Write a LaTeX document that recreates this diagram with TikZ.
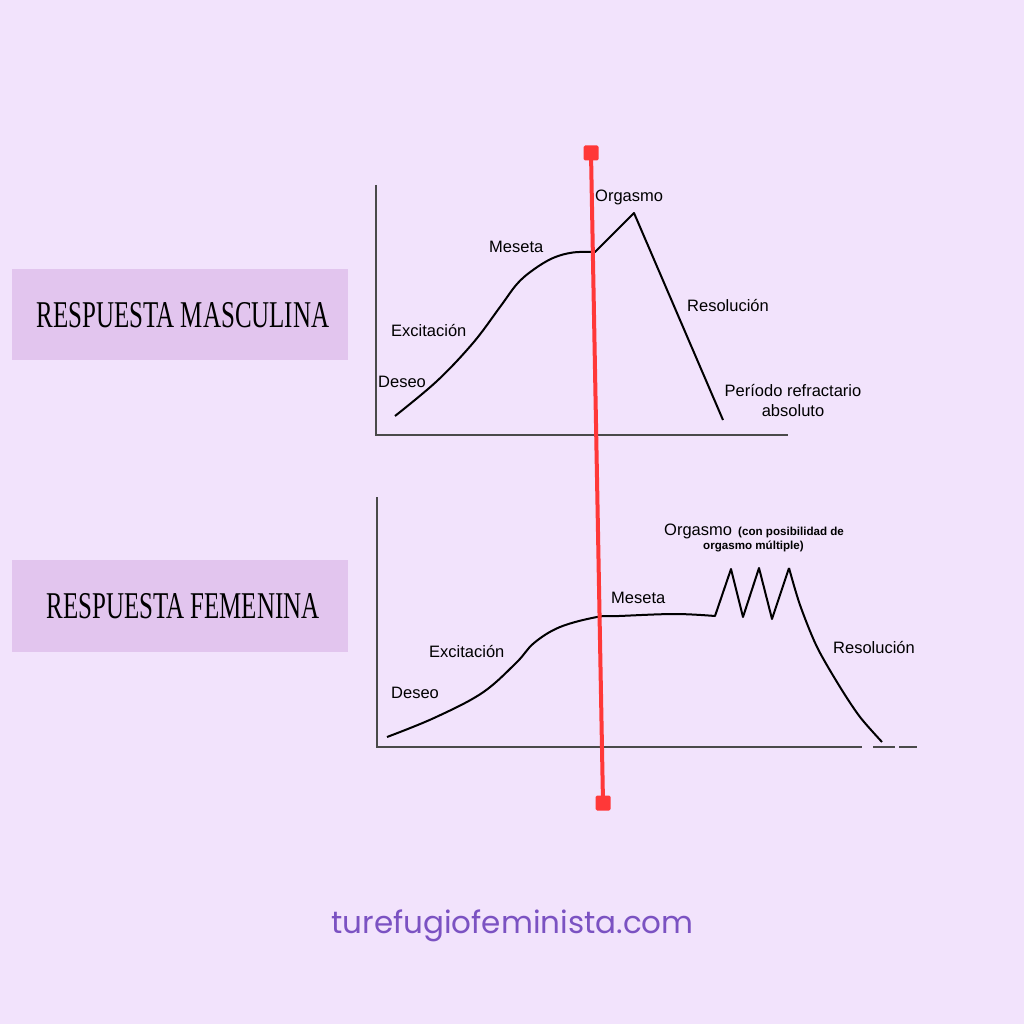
\documentclass[tikz,border=0pt]{standalone}
\usepackage{fontspec}
\setmainfont{Liberation Sans}
\newfontfamily\titlefont[FakeStretch=0.66]{Liberation Serif}
\newfontfamily\footfont{Poppins}
\definecolor{bgc}{HTML}{F2E3FC}
\definecolor{boxc}{HTML}{E2C5EE}
\definecolor{footc}{HTML}{7B52C2}
\definecolor{redc}{HTML}{FF3838}
\definecolor{axisc}{HTML}{4A4A4A}
\tikzset{
  lbl/.style={anchor=base west, inner sep=0pt, font=\fontsize{16.5}{20}\selectfont},
  small/.style={anchor=base west, inner sep=0pt, font=\fontsize{11.6}{14}\selectfont\bfseries},
  titlebox/.style={fill=boxc, draw=none},
  titletext/.style={anchor=base, inner sep=0pt, font=\titlefont\fontsize{37.8}{40}\selectfont},
  axis/.style={draw=axisc, line width=1.3pt},
  curve/.style={draw=black, line width=2pt, line join=round},
  redsq/.style={fill=redc, minimum size=15pt, inner sep=0pt, rounded corners=1.5pt, draw=none},
  redline/.style={draw=redc, line width=4pt}
}
\begin{document}
\begin{tikzpicture}[x=1pt,y=-1pt]
\fill[bgc] (0,0) rectangle (1024,1024);
\useasboundingbox (0,0) rectangle (1024,1024);

% title boxes
\fill[titlebox] (12,269) rectangle (348,360);
\fill[titlebox] (12,560) rectangle (348,652);
\node[titletext] (tm) at (183,327) {RESPUESTA MASCULINA};
\node[titletext] (tf) at (183,618) {RESPUESTA FEMENINA};

% top chart axes
\draw[axis] (376,185) -- (376,435) -- (788,435);
% top curve
\draw[curve] plot[smooth, tension=0.6] coordinates {(395,416) (437,381) (473,343) (500,307) (517,284) (533,270) (553,258) (573,252.5) (595,252)}
  -- (634,213) -- (723,420);

% top labels
\node[lbl] (o1) at (595,202) {Orgasmo};
\node[lbl] (m1) at (489,252) {Meseta};
\node[lbl] (e1) at (391,336) {Excitación};
\node[lbl] (d1) at (378,387) {Deseo};
\node[lbl] (r1) at (687,311) {Resolución};
\node[anchor=base, inner sep=0pt, align=center, font=\fontsize{16.5}{20}\selectfont] (p1) at (793,416) {Período refractario\\absoluto};

% bottom chart axes
\draw[axis] (377,497) -- (377,747) -- (862,747);
\draw[axis] (873,747) -- (895,747);
\draw[axis] (899,747) -- (917,747);
% bottom curve
\draw[curve] plot[smooth, tension=0.6] coordinates {(387,737) (434,718) (482,693) (516,663) (534,643) (560,627) (597,617) (619,616) (675,614) (715,616)}
  -- (731,569) -- (743,617) -- (759,568) -- (772,619) -- (789,568)
  plot[smooth, tension=0.5] coordinates {(789,568) (800,605) (817,647) (840,687) (860,717) (882,742)};

% bottom labels
\node[lbl] (o2) at (664,535) {Orgasmo};
\node[small] (c2) at (738,535) {(con posibilidad de};
\node[small] (c3) at (703,549) {orgasmo múltiple)};
\node[lbl] (m2) at (611,603) {Meseta};
\node[lbl] (e2) at (429,657) {Excitación};
\node[lbl] (d2) at (391,698) {Deseo};
\node[lbl] (r2) at (833,653) {Resolución};

% red line
\node[redsq] (rt) at (591,153) {};
\node[redsq] (rb) at (603,803) {};
\draw[redline] (rt.center) -- (rb.center);

% footer
\node[anchor=base, inner sep=0pt, text=footc, font=\footfont\fontsize{31}{36}\selectfont] (ft) at (512.5,933) {turefugiofeminista.com};
\end{tikzpicture}
\end{document}
